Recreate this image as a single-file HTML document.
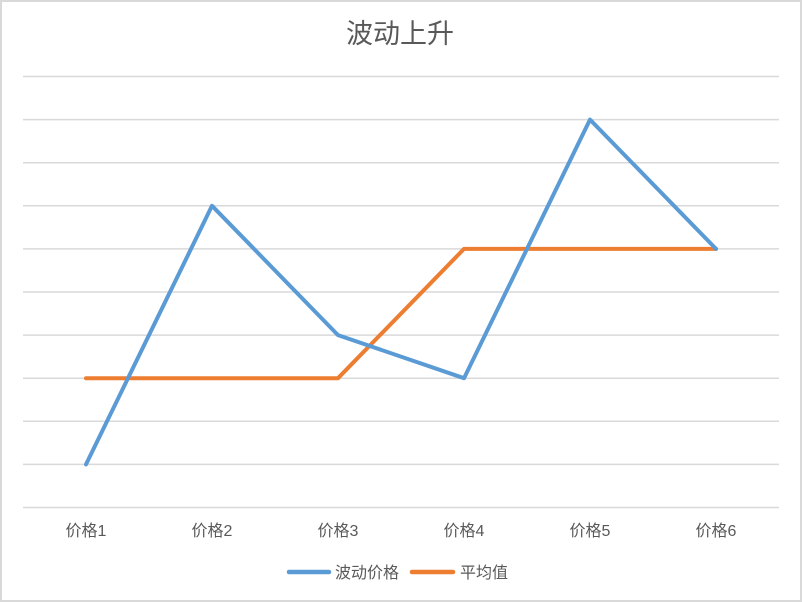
<!DOCTYPE html>
<html><head><meta charset="utf-8"><style>
html,body{margin:0;padding:0;background:#fff;}
svg{display:block;}
text{font-family:"Liberation Sans","Noto Sans CJK SC","Microsoft YaHei",sans-serif;fill:#595959;}
</style></head><body>
<svg width="802" height="602" viewBox="0 0 802 602" xmlns="http://www.w3.org/2000/svg">
<rect x="0" y="0" width="802" height="602" fill="#fff"/>
<rect x="1" y="1" width="800" height="600" fill="none" stroke="#d9d9d9" stroke-width="2"/>
<text x="400" y="43" text-anchor="middle" font-size="27" style="fill:#595959">波动上升</text>
<g stroke="#d9d9d9" stroke-width="1.5">
<line x1="23" x2="779" y1="76.5" y2="76.5"/>
<line x1="23" x2="779" y1="119.6" y2="119.6"/>
<line x1="23" x2="779" y1="162.7" y2="162.7"/>
<line x1="23" x2="779" y1="205.8" y2="205.8"/>
<line x1="23" x2="779" y1="248.9" y2="248.9"/>
<line x1="23" x2="779" y1="292" y2="292"/>
<line x1="23" x2="779" y1="335.1" y2="335.1"/>
<line x1="23" x2="779" y1="378.2" y2="378.2"/>
<line x1="23" x2="779" y1="421.3" y2="421.3"/>
<line x1="23" x2="779" y1="464.4" y2="464.4"/>
<line x1="23" x2="779" y1="507.5" y2="507.5"/>
</g>
<polyline fill="none" stroke="#ed7d31" stroke-width="4" stroke-linejoin="round" stroke-linecap="round"
 points="86,378.2 212,378.2 338,378.2 464,248.9 590,248.9 716,248.9"/>
<polyline fill="none" stroke="#5b9bd5" stroke-width="4" stroke-linejoin="round" stroke-linecap="round"
 points="86,464.4 212,205.8 338,335.1 464,378.2 590,119.6 716,248.9"/>
<g font-size="16" text-anchor="middle">
<text x="86" y="536">价格1</text>
<text x="212" y="536">价格2</text>
<text x="338" y="536">价格3</text>
<text x="464" y="536">价格4</text>
<text x="590" y="536">价格5</text>
<text x="716" y="536">价格6</text>
</g>
<line x1="289" x2="329" y1="572" y2="572" stroke="#5b9bd5" stroke-width="4.5" stroke-linecap="round"/>
<text x="335" y="578" font-size="16">波动价格</text>
<line x1="412" x2="453" y1="572" y2="572" stroke="#ed7d31" stroke-width="4.5" stroke-linecap="round"/>
<text x="460" y="578" font-size="16">平均值</text>
</svg>
</body></html>
